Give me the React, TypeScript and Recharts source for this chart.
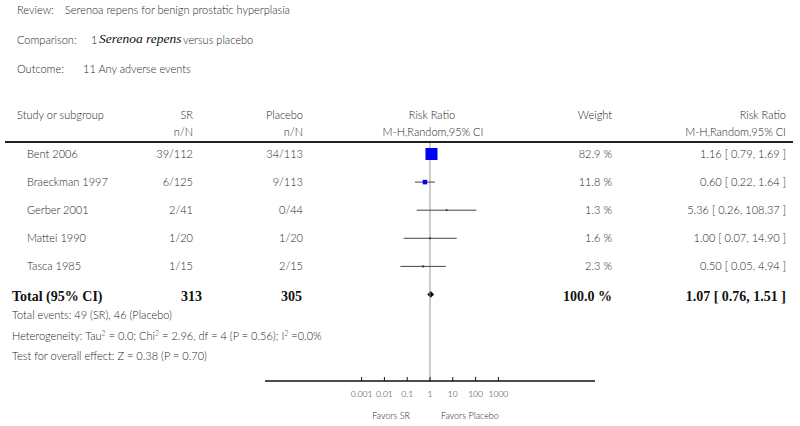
import React from "react";
import {
  ComposedChart,
  Scatter,
  ErrorBar,
  XAxis,
  YAxis,
  ReferenceLine,
  ReferenceArea,
} from "recharts";

// study rows
const studies = ["Bent 2006", "Braeckman 1997", "Gerber 2001", "Mattei 1990", "Tasca 1985"];
const srEvents = ["39/112", "6/125", "2/41", "1/20", "1/15"];
const placeboEvents = ["34/113", "9/113", "0/44", "1/20", "2/15"];
const riskRatio = [1.16, 0.6, 5.36, 1.0, 0.5];
const ciLow = [0.79, 0.22, 0.26, 0.07, 0.05];
const ciHigh = [1.69, 1.64, 108.37, 14.9, 4.94];
const weights = [82.9, 11.8, 1.3, 1.6, 2.3];

// pooled result
const totalN = [313, 305];
const totalRR = [1.07, 0.76, 1.51];
const totalWeight = 100.0;

const xTicks = [0.001, 0.01, 0.1, 1, 10, 100, 1000];
const rowTicks = [0, 1, 2, 3, 4, 5];

const rows = studies.map((name, i) => ({
  row: i,
  rr: riskRatio[i],
  err: [riskRatio[i] - ciLow[i], ciHigh[i] - riskRatio[i]],
  weight: weights[i],
}));

const SANS = "Lato, 'Open Sans', sans-serif";
const SERIF = "'Liberation Serif', 'DejaVu Serif', serif";
const INK = "#1e1e1e";
const LIGHT = 300;

const fmtCI = (m: number, lo: number, hi: number) =>
  `${m.toFixed(2)} [ ${lo.toFixed(2)}, ${hi.toFixed(2)} ]`;

// the y axis ticks carry the table text of each row
const RowTick = (props: any) => {
  const { y, payload } = props;
  const i = payload.value;
  if (i < studies.length) {
    const common = { y, dy: "0.35em", fontFamily: SANS, fontSize: 11, fontWeight: LIGHT, fill: INK };
    return (
      <g>
        <text {...common} x={27}>{studies[i]}</text>
        <text {...common} x={193} textAnchor="end">{srEvents[i]}</text>
        <text {...common} x={303} textAnchor="end">{placeboEvents[i]}</text>
        <text {...common} x={612} textAnchor="end">{`${weights[i].toFixed(1)} %`}</text>
        <text {...common} x={786} textAnchor="end">
          {fmtCI(riskRatio[i], ciLow[i], ciHigh[i])}
        </text>
      </g>
    );
  }
  const bold = { y: y + 2, dy: "0.35em", fontFamily: SERIF, fontSize: 14, fontWeight: 700, fill: "#111" };
  return (
    <g>
      <text {...bold} x={12}>Total (95% CI)</text>
      <text {...bold} x={202} textAnchor="end">{totalN[0]}</text>
      <text {...bold} x={302} textAnchor="end">{totalN[1]}</text>
      <text {...bold} x={612} textAnchor="end">{`${totalWeight.toFixed(1)} %`}</text>
      <text {...bold} x={786} textAnchor="end">
        {fmtCI(totalRR[0], totalRR[1], totalRR[2])}
      </text>
    </g>
  );
};

const AxisTick = (props: any) => {
  const { x, y, payload } = props;
  return (
    <g>
      <line x1={x} x2={x} y1={y - 4} y2={y} stroke="#111" strokeWidth={1} />
      <text x={x} y={y + 16} textAnchor="middle" fontFamily={SANS} fontWeight={LIGHT} fontSize={8.5} fill={INK}>
        {String(payload.value)}
      </text>
      {payload.value === 1 && (
        <g fontFamily={SANS} fontWeight={LIGHT} fontSize={9} fill={INK}>
          <text x={x - 20} y={y + 38} textAnchor="end">Favors SR</text>
          <text x={x + 11} y={y + 38}>Favors Placebo</text>
        </g>
      )}
    </g>
  );
};

const Square = (props: any) => {
  const { cx, cy, payload } = props;
  const s = Math.max(1.8, 1.32 * Math.sqrt(payload.weight));
  return (
    <rect
      x={cx - s / 2}
      y={cy - s / 2}
      width={s}
      height={s}
      fill={payload.weight > 5 ? "#0000f5" : "#333"}
    />
  );
};

const Diamond = (props: any) => {
  const { x, y, width, height } = props;
  const mid = x + width / 2;
  return (
    <polygon
      points={`${x},${y + height / 2} ${mid},${y} ${x + width},${y + height / 2} ${mid},${y + height}`}
      fill="#000"
    />
  );
};

const Txt = ({ x, y, align = "left", children, style }: any) => (
  <div
    style={{
      position: "absolute",
      left: x,
      top: y - 8,
      lineHeight: "16px",
      whiteSpace: "nowrap",
      transform: align === "right" ? "translateX(-100%)" : align === "center" ? "translateX(-50%)" : undefined,
      ...style,
    }}
  >
    {children}
  </div>
);

const Sup = ({ children }: any) => (
  <span style={{ fontSize: 7, position: "relative", top: -4 }}>{children}</span>
);

export default function App() {
  return (
    <div
      style={{
        position: "absolute",
        left: 0,
        top: 0,
        width: 800,
        height: 426,
        background: "#fff",
        fontFamily: SANS,
        fontWeight: LIGHT,
        fontSize: 11,
        color: INK,
        overflow: "hidden",
      }}
    >
      <Txt x={17} y={10}>Review:</Txt>
      <Txt x={65} y={10}>Serenoa repens for benign prostatic hyperplasia</Txt>
      <Txt x={17} y={40}>Comparison:</Txt>
      <Txt x={91} y={40}>1</Txt>
      <Txt x={99} y={39} style={{ fontFamily: SERIF, fontStyle: "italic", fontWeight: 400, fontSize: 13.5, color: "#111" }}>
        Serenoa repens
      </Txt>
      <Txt x={183} y={40}>versus placebo</Txt>
      <Txt x={17} y={69}>Outcome:</Txt>
      <Txt x={83} y={69}>11 Any adverse events</Txt>

      <Txt x={17} y={115}>Study or subgroup</Txt>
      <Txt x={193} y={115} align="right">SR</Txt>
      <Txt x={303} y={115} align="right">Placebo</Txt>
      <Txt x={432} y={115} align="center">Risk Ratio</Txt>
      <Txt x={612} y={115} align="right">Weight</Txt>
      <Txt x={786} y={115} align="right">Risk Ratio</Txt>
      <Txt x={193} y={132} align="right">n/N</Txt>
      <Txt x={303} y={132} align="right">n/N</Txt>
      <Txt x={433} y={132} align="center">M-H,Random,95% CI</Txt>
      <Txt x={786} y={132} align="right">M-H,Random,95% CI</Txt>
      <div style={{ position: "absolute", left: 5, top: 141, width: 788, height: 2, background: "#222" }} />

      <Txt x={12} y={315}>Total events: 49 (SR), 46 (Placebo)</Txt>
      <Txt x={12} y={336}>
        Heterogeneity: Tau<Sup>2</Sup> = 0.0; Chi<Sup>2</Sup> = 2.96, df = 4 (P = 0.56); I<Sup>2</Sup> =0.0%
      </Txt>
      <Txt x={12} y={356}>Test for overall effect: Z = 0.38 (P = 0.70)</Txt>

      <div style={{ position: "absolute", left: 0, top: 0 }}>
        <ComposedChart
          width={800}
          height={426}
          data={rows}
          margin={{ top: 143, right: 205, bottom: 0, left: 264 }}
        >
          <XAxis
            dataKey="rr"
            type="number"
            scale="log"
            domain={[Math.pow(10, -7.237), Math.pow(10, 7.237)]}
            allowDataOverflow
            ticks={xTicks}
            interval={0}
            height={45}
            tickLine={false}
            tickSize={0}
            tickMargin={0}
            axisLine={{ stroke: "#111", strokeWidth: 1.5 }}
            tick={<AxisTick />}
          />
          <YAxis
            dataKey="row"
            type="number"
            domain={[-0.391, 8.079]}
            reversed
            allowDataOverflow
            ticks={rowTicks}
            interval={0}
            width={1}
            axisLine={false}
            tickLine={false}
            tick={<RowTick />}
          />
          <ReferenceLine x={1} stroke="#999" strokeWidth={1} />
          <Scatter data={rows} shape={<Square />} isAnimationActive={false}>
            <ErrorBar
              dataKey="err"
              direction="x"
              width={0}
              stroke="#444"
              strokeWidth={1}
              isAnimationActive={false}
            />
          </Scatter>
          <ReferenceArea
            x1={totalRR[1]}
            x2={totalRR[2]}
            y1={5 - 0.12}
            y2={5 + 0.12}
            shape={<Diamond />}
          />
        </ComposedChart>
      </div>
    </div>
  );
}
